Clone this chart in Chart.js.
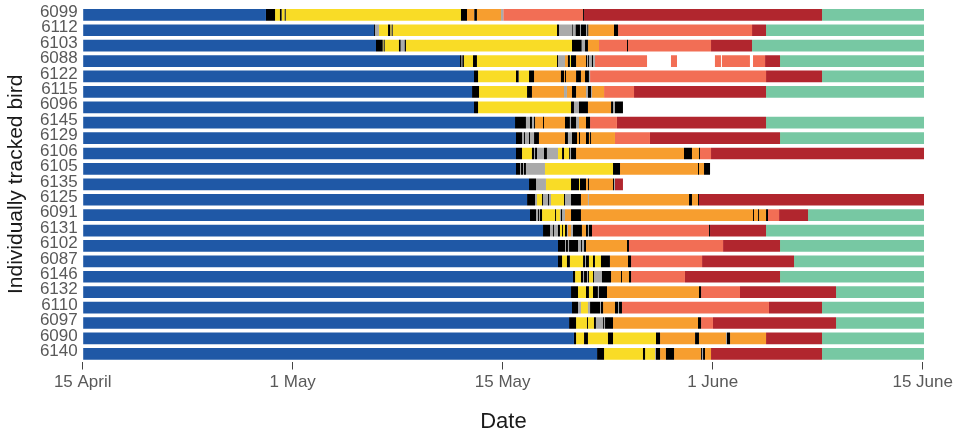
<!DOCTYPE html>
<html>
<head>
<meta charset="utf-8">
<script src="https://cdn.jsdelivr.net/npm/chart.js@4.4.1/dist/chart.umd.min.js"></script>
<style>
  html, body { margin: 0; padding: 0; background: #fff; }
</style>
</head>
<body>
<canvas id="birdChart" width="958" height="431"></canvas>
<script>
// Birds, top to bottom
const birds = ["6099", "6112", "6103", "6088", "6122", "6115", "6096", "6145", "6129", "6106", "6105", "6135",
               "6125", "6091", "6131", "6102", "6087", "6146", "6132", "6110", "6097", "6090", "6140"];

// State code followed by the day it ends (days after 15 April); "-" means no record
const tracks = [
  "B 13.09 K 13.74 Y 14.09 K 14.21 Y 14.43 K 14.5 Y 27.02 K 27.45 O 27.97 K 28.16 O 29.88 G 30.04 S 35.74 K 35.81 R 52.81 T 60.1",
  "B 20.81 K 20.88 G 21.16 Y 21.81 K 21.97 Y 22.07 K 22.14 Y 33.88 K 34.02 G 34.95 K 35.0 G 35.21 K 35.52 G 35.59 K 35.95 G 36.04 K 36.11 O 37.95 K 38.24 S 47.81 R 48.81 T 60.1",
  "B 20.95 K 21.43 Y 21.5 K 21.57 Y 22.59 K 22.71 G 23.0 K 23.09 Y 34.95 K 35.64 G 35.88 K 36.09 O 36.88 S 38.88 K 38.95 S 44.88 R 47.81 T 60.1",
  "B 26.95 K 27.05 G 27.12 K 27.23 Y 27.88 K 28.16 Y 33.88 K 33.95 G 34.45 O 34.66 K 34.8 Y 34.88 K 35.24 O 35.95 K 36.02 G 36.09 K 36.16 G 36.37 K 36.45 G 36.59 S 40.31 - 42.02 S 42.45 - 45.16 S 45.59 - 45.66 S 47.66 - 47.88 S 48.74 R 49.81 T 60.1",
  "B 27.95 K 28.24 Y 30.95 K 31.14 Y 31.88 K 32.24 O 34.16 K 34.38 O 34.45 K 34.52 O 35.24 K 35.59 O 35.88 K 36.16 G 36.24 S 48.81 R 52.81 T 60.1",
  "B 27.81 K 28.31 Y 31.74 K 32.09 O 34.38 G 34.59 O 34.95 K 35.24 O 35.95 G 36.09 K 36.31 G 36.38 O 37.24 S 39.38 R 48.81 T 60.1",
  "B 27.95 K 28.24 Y 34.88 K 35.09 G 35.45 K 36.09 O 37.74 K 37.88 G 38.02 K 38.59",
  "B 30.88 K 31.66 G 31.95 K 32.09 G 32.24 K 32.31 O 32.88 K 32.95 O 34.45 K 34.8 G 34.88 K 35.24 G 35.45 O 35.95 K 36.24 S 38.16 R 48.81 T 60.1",
  "B 30.95 K 31.38 G 31.52 K 31.59 G 31.88 K 31.95 G 32.24 K 32.59 O 34.45 K 34.66 G 34.95 K 35.31 O 35.45 K 35.52 O 35.95 K 36.16 O 36.24 K 36.31 O 38.02 S 40.52 R 49.81 T 60.1",
  "B 30.95 K 31.38 Y 32.09 K 32.24 G 32.31 K 32.45 G 32.95 K 33.16 G 33.95 Y 34.24 K 34.38 Y 34.74 K 34.8 G 34.88 K 35.24 O 42.95 K 43.52 O 44.02 K 44.09 S 44.88 R 60.1",
  "B 30.95 K 31.24 G 31.31 K 31.45 G 31.52 K 31.66 G 33.02 Y 37.88 K 38.38 O 43.95 K 44.02 O 44.38 K 44.81",
  "B 31.88 K 32.38 G 33.09 Y 34.88 K 35.45 Y 35.52 K 35.95 O 36.09 K 36.16 O 37.88 K 37.95 G 38.02 R 38.59",
  "B 31.74 K 32.31 G 32.45 Y 32.81 K 32.88 G 33.24 K 33.31 G 33.45 Y 34.38 K 34.45 G 34.88 K 35.59 O 36.09 G 36.16 O 43.31 K 43.52 O 43.95 K 44.02 R 60.1",
  "B 31.95 K 32.38 G 32.52 K 32.59 G 32.66 K 32.81 Y 33.74 K 33.81 Y 34.09 G 34.16 K 34.24 G 34.45 O 34.88 K 35.59 O 47.88 K 47.95 O 48.24 K 48.31 O 48.81 K 48.95 S 49.74 R 51.81 T 60.1",
  "B 32.88 K 33.38 G 33.59 K 33.66 G 33.95 K 34.09 Y 34.24 K 34.31 Y 34.45 K 34.59 G 34.66 O 34.88 G 35.02 K 35.66 O 35.95 K 36.09 G 36.16 K 36.38 S 44.74 K 44.81 R 48.81 T 60.1",
  "B 33.95 K 34.45 G 34.52 K 34.66 G 34.74 K 35.38 G 35.59 K 35.66 G 35.81 K 35.95 O 38.88 K 39.02 S 45.74 R 49.81 T 60.1",
  "B 33.95 K 34.24 Y 34.59 K 34.8 Y 35.74 K 35.88 G 35.95 K 36.16 Y 36.45 K 36.59 Y 37.02 K 37.66 O 38.95 K 39.17 S 44.24 R 50.81 T 60.1",
  "B 35.02 K 35.17 Y 35.59 K 35.74 G 35.81 K 36.02 G 36.09 K 36.16 Y 36.45 K 36.52 G 37.09 K 37.74 O 38.45 K 38.52 O 39.02 K 39.17 S 43.02 R 49.81 T 60.1",
  "B 34.88 K 35.38 Y 35.95 K 36.16 Y 36.45 K 36.8 G 36.88 K 37.45 O 44.02 K 44.17 S 46.95 R 53.81 T 60.1",
  "B 34.95 K 35.38 G 35.59 Y 36.09 G 36.24 K 36.95 G 37.02 K 37.17 O 38.02 K 38.24 G 38.31 K 38.52 S 49.02 R 52.81 T 60.1",
  "B 34.74 K 35.24 Y 36.02 K 36.09 Y 36.52 K 36.66 G 37.17 K 37.24 G 37.31 K 37.88 O 43.95 K 44.17 S 45.02 R 53.81 T 60.1",
  "B 35.09 K 35.24 Y 35.81 K 36.09 Y 37.52 K 37.88 Y 40.95 K 41.24 O 43.74 K 44.02 O 45.95 G 46.02 K 46.24 O 48.81 R 52.81 T 60.1",
  "B 36.74 K 37.24 Y 40.02 K 40.17 Y 40.88 G 40.95 K 41.24 O 41.66 K 42.24 O 44.17 K 44.24 G 44.31 K 44.45 O 44.88 R 52.81 T 60.1"
];

const stateCodes = ["B", "K", "G", "Y", "O", "S", "R", "T"];
const tickDays = [0, 15, 30, 45, 60];
const tickLabels = ["15 April", "1 May", "15 May", "1 June", "15 June"];
const lastDay = 60.1;

const stateColors = {
  B: "#1f58a6", K: "#000000", G: "#aaaaaa", Y: "#f9dc26",
  O: "#f79e2f", S: "#f26e55", R: "#b1262e", T: "#77c8a3"
};

// one floating-bar dataset per state, each segment is [start, end] on its bird's row
const datasets = stateCodes.map(code => ({
  label: code,
  data: [],
  backgroundColor: stateColors[code],
  borderWidth: 0,
  borderSkipped: false,
  grouped: false,
  categoryPercentage: 1,
  barPercentage: 0.76
}));

tracks.forEach((track, i) => {
  const tokens = track.trim().split(/\s+/);
  let start = 0;
  for (let k = 0; k < tokens.length; k += 2) {
    const code = tokens[k];
    const end = parseFloat(tokens[k + 1]);
    const idx = stateCodes.indexOf(code);
    if (idx >= 0) datasets[idx].data.push({ y: birds[i], x: [start, end] });
    start = end;
  }
});

const font = "'Liberation Sans', Arial, Helvetica, sans-serif";

new Chart(document.getElementById("birdChart"), {
  type: "bar",
  data: { labels: birds, datasets },
  options: {
    indexAxis: "y",
    responsive: false,
    animation: false,
    devicePixelRatio: 1,
    layout: { padding: { top: 7.15, right: 33.9, bottom: 0, left: 0 } },
    plugins: {
      legend: { display: false },
      tooltip: { enabled: false }
    },
    scales: {
      x: {
        type: "linear",
        min: 0,
        max: lastDay,
        afterBuildTicks: scale => { scale.ticks = tickDays.map(v => ({ value: v })); },
        afterFit: scale => { scale.height = 69.5; },
        ticks: {
          callback: (value, index) => tickLabels[index],
          color: "#595959",
          font: { family: font, size: 17 },
          padding: 3,
          maxRotation: 0,
          autoSkip: false
        },
        grid: { drawOnChartArea: false, drawTicks: true, tickLength: 8, color: "#444444" },
        border: { display: false },
        title: {
          display: true,
          text: "Date",
          color: "#1a1a1a",
          font: { family: font, size: 22, lineHeight: 0.85 },
          padding: 0
        }
      },
      y: {
        type: "category",
        offset: true,
        // keep the row band flush with the layout padding
        afterFit: scale => {
          scale.width = 82.7;
          scale.paddingTop = 0;
          scale.paddingBottom = 0;
        },
        grid: { display: false, drawTicks: false },
        border: { display: false },
        ticks: {
          color: "#595959",
          font: { family: font, size: 17 },
          padding: 5,
          labelOffset: -2.5,
          autoSkip: false
        },
        title: {
          display: true,
          text: "Individually tracked bird",
          color: "#1a1a1a",
          font: { family: font, size: 21 },
          padding: { top: 4, bottom: 0 }
        }
      }
    }
  }
});
</script>
</body>
</html>
